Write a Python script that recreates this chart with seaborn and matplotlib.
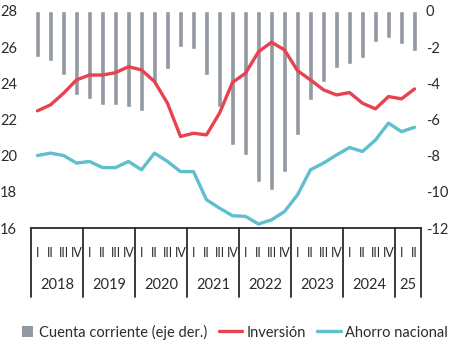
import matplotlib
matplotlib.use("Agg")
import matplotlib.pyplot as plt
import seaborn as sns
import pandas as pd
import numpy as np
from matplotlib.lines import Line2D
from matplotlib.patches import Patch
import matplotlib.transforms as mtransforms

# ---- data ----
years = ['2018', '2019', '2020', '2021', '2022', '2023', '2024', '25']
quarters_per_year = [4, 4, 4, 4, 4, 4, 4, 2]
quarter_names = ['I', 'II', 'III', 'IV']

cuenta_corriente = [-2.52, -2.74, -3.54, -4.64, -4.86, -5.21, -5.21, -5.32,
                    -5.52, -3.94, -3.20, -1.97, -2.08, -3.54, -5.32, -7.40,
                    -7.96, -9.43, -9.89, -8.88, -6.85, -4.92, -3.94, -3.17,
                    -2.95, -2.62, -1.73, -1.51, -1.84, -2.19]
inversion = [22.48, 22.81, 23.45, 24.19, 24.46, 24.46, 24.59, 24.92,
             24.74, 24.10, 22.90, 21.06, 21.24, 21.15, 22.35, 24.05,
             24.56, 25.75, 26.27, 25.85, 24.70, 24.19, 23.64, 23.36,
             23.49, 22.90, 22.59, 23.27, 23.14, 23.69]
ahorro = [20.01, 20.14, 20.01, 19.59, 19.68, 19.34, 19.34, 19.68,
          19.22, 20.14, 19.68, 19.12, 19.12, 17.56, 17.10, 16.68,
          16.64, 16.22, 16.45, 16.91, 17.83, 19.22, 19.59, 20.04,
          20.45, 20.23, 20.87, 21.80, 21.33, 21.57]

legend_labels = ['Cuenta corriente (eje der.)', 'Inversión', 'Ahorro nacional']

# ---- styling ----
sns.set_style("white")
plt.rcParams['font.family'] = ['Lato', 'DejaVu Sans']
GRAY = '#9299a1'
RED = '#e8414f'
TEAL = '#5fbfcc'
DARK = '#2b2b2b'

q_labels = []
for n in quarters_per_year:
    q_labels += quarter_names[:n]
n = len(q_labels)
df = pd.DataFrame({'idx': np.arange(n), 'cc': cuenta_corriente,
                   'inv': inversion, 'aho': ahorro})

fig = plt.figure(figsize=(4.5, 3.51), dpi=100)
ax = fig.add_axes([31/450, 1-228/351, 390/450, 217/351])

# bars on primary axis (right-side scale)
sns.barplot(data=df, x='idx', y='cc', ax=ax, color=GRAY, width=0.46,
            saturation=1, native_scale=True)

ax2 = ax.twinx()
sns.lineplot(data=df, x='idx', y='inv', ax=ax2, color=RED, lw=2.4)
sns.lineplot(data=df, x='idx', y='aho', ax=ax2, color=TEAL, lw=2.4)

ax.set_ylim(-12, 0)
ax.set_yticks(np.arange(-12, 1, 2))
ax.set_yticklabels([str(v) for v in range(-12, 1, 2)])
ax2.set_ylim(16, 28)
ax2.set_yticks(np.arange(16, 29, 2))

for a in (ax, ax2):
    a.set_xlim(-0.5, n - 0.5)
    a.set_xlabel('')
    a.set_ylabel('')
    for s in a.spines.values():
        s.set_visible(False)
    a.tick_params(axis='y', length=0, labelsize=10.5, colors=DARK)

ax.yaxis.set_ticks_position('right')
ax.yaxis.set_label_position('right')
ax.tick_params(axis='y', left=False, labelleft=False, right=False,
               labelright=True, pad=3.6)
ax2.yaxis.set_ticks_position('left')
ax2.tick_params(axis='y', left=False, labelleft=True, right=False,
                labelright=False, pad=22.3)
for lab in ax2.get_yticklabels():
    lab.set_horizontalalignment('left')

ax.spines['bottom'].set_visible(True)
ax.spines['bottom'].set_color(DARK)
ax.spines['bottom'].set_linewidth(1.3)

ax.set_xticks(np.arange(n))
ax.set_xticklabels(q_labels)
ax.tick_params(axis='x', length=0, labelsize=9, pad=14, colors=DARK)
ax2.tick_params(axis='x', length=0, labelbottom=False)

trans = mtransforms.blended_transform_factory(ax.transData, ax.transAxes)
boundaries = np.concatenate([[0], np.cumsum(quarters_per_year)]) - 0.5
sep_bottom = -(297 - 228) / 217
for b in boundaries:
    ax.add_line(Line2D([b, b], [0, sep_bottom], transform=trans, color=DARK,
                       lw=1.3, clip_on=False))
year_y = -(285 - 228) / 217
for i, y in enumerate(years):
    c = (boundaries[i] + boundaries[i + 1]) / 2
    ax.text(c, year_y, y, transform=trans, ha='center', va='center',
            fontsize=10.5, color=DARK)

handles = [Patch(facecolor=GRAY, edgecolor='none'),
           Line2D([], [], color=RED, lw=2.4),
           Line2D([], [], color=TEAL, lw=2.4)]
fig.legend(handles, legend_labels, loc='center', ncol=3,
           bbox_to_anchor=(0.51, 1 - 332/351), frameon=False, fontsize=10.5,
           handlelength=1.6, handleheight=0.7, handletextpad=0.3,
           columnspacing=0.8, labelcolor=DARK, borderpad=0, borderaxespad=0)
leg = fig.legends[0]
p = leg.legend_handles[0]
fullw = p.get_width()
p.set_width(fullw * 0.5)
p.set_x(p.get_x() + fullw * 0.45)

fig.savefig('out.png', dpi=100)
